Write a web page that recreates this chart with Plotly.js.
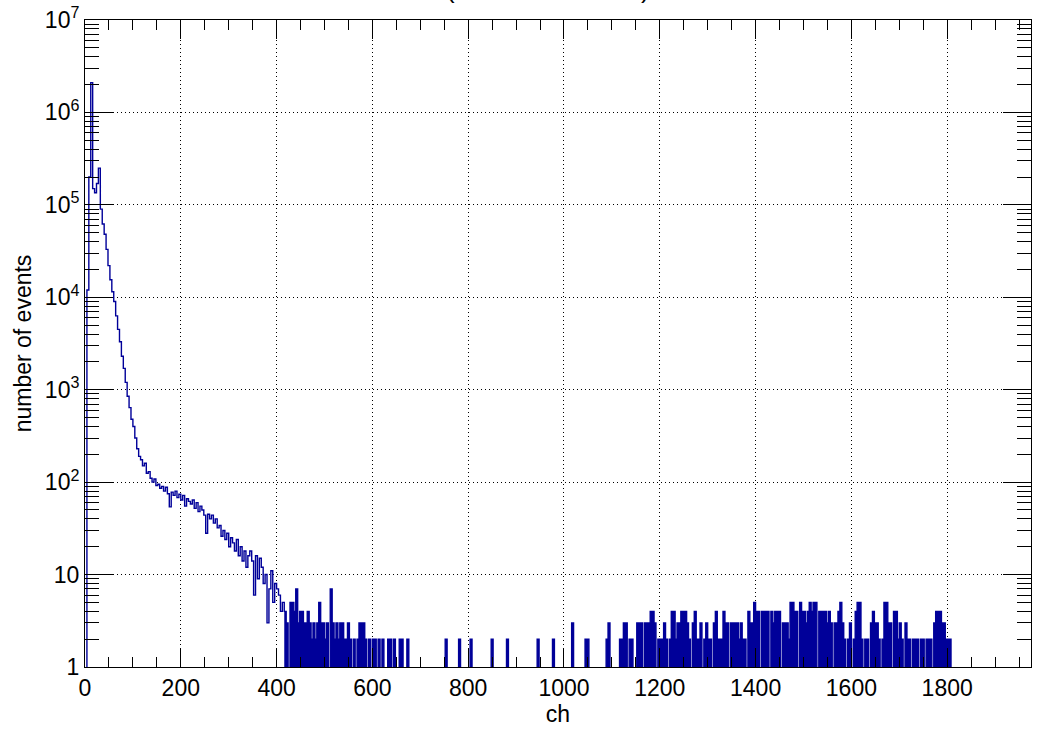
<!DOCTYPE html>
<html>
<head>
<meta charset="utf-8">
<script src="https://cdn.plot.ly/plotly-3.0.1.min.js"></script>
<style>html,body{margin:0;padding:0;background:#fff;}#chart{width:1040px;height:729px;}</style>
</head>
<body>
<div id="chart"></div>
<script>
// ---- data (bin width 4 ch) ----
const binWidth = 4;
// counts for bins starting at ch 0,4,8,...,412
const headCounts = [
  0, 12000, 200000, 2100000, 150000, 135000, 170000, 250000, 90000, 62000,
  48000, 33000, 22000, 15500, 11500, 9000, 6300, 4500, 3300, 2300,
  1700, 1200, 850, 640, 480, 400, 300, 230, 190, 175,
  150, 160, 125, 130, 110, 100, 108, 92, 95, 86,
  90, 80, 88, 75, 54, 78, 72, 80, 68, 74,
  64, 72, 55, 66, 62, 58, 64, 52, 60, 48,
  55, 50, 44, 28, 45, 40, 44, 36, 40, 32,
  34, 26, 30, 24, 28, 20, 25, 22, 18, 24,
  16, 20, 14, 18, 12, 16, 18, 14, 6, 16,
  9, 15, 12, 8, 10, 3, 7, 11, 5, 8,
  7, 6, 4, 5
];
// sparse tail: non-empty bins (lower edge in ch) beyond ch 416
const tailChannels = [
  416, 420, 428, 432, 436, 440, 444, 448, 452, 456, 460, 464, 468, 472, 476, 480, 484, 488, 492, 496,
  500, 504, 512, 516, 520, 524, 528, 532, 536, 540, 544, 548, 552, 560, 568, 572, 576, 580, 584, 592,
  600, 604, 612, 620, 632, 636, 644, 656, 660, 672,
  752, 780, 804, 848, 880, 944, 976, 1016, 1044, 1048, 1088, 1092,
  1116, 1120, 1124, 1128, 1136, 1140, 1152, 1156, 1160, 1168, 1172, 1176, 1180, 1184, 1188,
  1196, 1200, 1204, 1208, 1212, 1220, 1224, 1228, 1232, 1236, 1240, 1244, 1248, 1252, 1256, 1260,
  1268, 1272, 1276, 1280, 1284, 1292, 1296, 1300, 1304, 1312, 1316, 1320, 1324, 1328, 1332, 1336, 1340,
  1348, 1352, 1356, 1360, 1364, 1368, 1372, 1376, 1384, 1388, 1392, 1396, 1400, 1404,
  1412, 1416, 1420, 1424, 1432, 1436, 1440, 1444, 1448, 1456, 1460, 1464, 1468, 1472, 1476, 1480, 1484,
  1492, 1496, 1500, 1504, 1508, 1512, 1516, 1520, 1524, 1532, 1536, 1540, 1544, 1548, 1552, 1556,
  1564, 1568, 1572, 1576, 1580, 1584, 1592, 1596, 1604, 1608, 1612, 1616, 1620, 1628, 1632,
  1640, 1644, 1648, 1652, 1656, 1664, 1668, 1672, 1676, 1680, 1688, 1692, 1696, 1700, 1704,
  1712, 1716, 1720, 1728, 1732, 1736, 1744, 1748, 1756, 1760, 1764, 1772, 1776, 1780, 1784, 1788,
  1792, 1796, 1800, 1804
];
const tailCounts = [
  4, 3, 5, 5, 4, 7, 3, 4, 4, 3, 3, 4, 3, 2, 3, 2, 3, 5, 3, 3,
  2, 3, 7, 3, 2, 3, 2, 3, 3, 2, 2, 3, 2, 2, 2, 3, 3, 3, 2, 2,
  2, 2, 2, 2, 2, 2, 2, 2, 2, 2,
  2, 2, 2, 2, 2, 2, 2, 3, 2, 2, 2, 3,
  2, 2, 3, 3, 2, 2, 3, 3, 3, 3, 3, 3, 4, 4, 3,
  2, 2, 2, 3, 2, 2, 4, 4, 2, 3, 3, 4, 4, 4, 3, 2,
  3, 4, 2, 2, 3, 2, 3, 2, 2, 3, 4, 2, 2, 2, 4, 3, 3,
  3, 3, 3, 3, 2, 3, 2, 2, 4, 3, 3, 5, 4, 4,
  4, 4, 4, 4, 4, 3, 4, 4, 4, 3, 3, 3, 2, 5, 5, 4, 4,
  5, 4, 4, 3, 4, 5, 4, 5, 5, 4, 4, 4, 4, 3, 4, 3,
  3, 3, 4, 5, 3, 2, 2, 3, 2, 4, 5, 5, 2, 2, 2,
  3, 4, 3, 3, 2, 2, 5, 5, 3, 3, 4, 4, 2, 3, 2,
  3, 2, 2, 2, 2, 2, 2, 2, 2, 2, 2, 3, 4, 4, 4, 3,
  3, 2, 2, 2
];
const xTickVals = [0, 200, 400, 600, 800, 1000, 1200, 1400, 1600, 1800];
const xTickText = ['0', '200', '400', '600', '800', '1000', '1200', '1400', '1600', '1800'];
const yTickVals = [1, 10, 100, 1000, 10000, 100000, 1000000, 10000000];
const yTickText = ['1', '10', '10<sup>2</sup>', '10<sup>3</sup>', '10<sup>4</sup>', '10<sup>5</sup>', '10<sup>6</sup>', '10<sup>7</sup>'];
const xTitle = 'ch';
const yTitle = 'number of events';

// ---- build histogram ----
const tailEnd = 1808;
const nBins = tailEnd / binWidth;
const counts = new Array(nBins).fill(0);
headCounts.forEach((v, i) => { counts[i] = v; });
tailChannels.forEach((c, i) => { counts[c / binWidth] = tailCounts[i]; });

const FLOOR = 0.1; // empty bins drop below the log axis (clipped)
const edges = [], vals = [];
for (let i = 0; i < nBins; i++) { edges.push(i * binWidth); vals.push(counts[i] > 0 ? counts[i] : FLOOR); }
edges.push(nBins * binWidth); vals.push(FLOOR);

const tailStartBin = 416 / binWidth;
const tx = edges.slice(tailStartBin), ty = vals.slice(tailStartBin);

const BLUE = '#000099';
const FONT = 'Liberation Sans, Arial, Helvetica, sans-serif';
const FS = 23;

const traces = [
  {x: [tx[0], tx[tx.length - 1]], y: [FLOOR, FLOOR], mode: 'lines', line: {width: 0}, hoverinfo: 'skip', showlegend: false},
  {x: tx, y: ty, mode: 'lines', line: {shape: 'hv', width: 0, color: BLUE}, fill: 'tonexty', fillcolor: BLUE, hoverinfo: 'skip', showlegend: false},
  {x: edges, y: vals, mode: 'lines', line: {shape: 'hv', width: 1.4, color: BLUE}, showlegend: false}
];

const xMinor = [];
for (let v = 0; v <= 1975; v += 50) if (v % 200 !== 0) xMinor.push(v);
const yMinor = [];
for (let d = 1; d < 1e7; d *= 10) for (let k = 2; k <= 9; k++) yMinor.push(k * d);

const axisCommon = {
  showline: true, linecolor: 'black', linewidth: 1, mirror: 'allticks',
  ticks: 'inside', tickcolor: 'black', tickwidth: 1,
  showgrid: true, gridcolor: 'black', gridwidth: 1, griddash: '1px,3px',
  zeroline: false, tickfont: {family: FONT, size: FS, color: 'black'}
};

const layout = {
  width: 1040, height: 729,
  margin: {l: 85, r: 9, t: 20, b: 62},
  paper_bgcolor: 'white', plot_bgcolor: 'white',
  showlegend: false,
  xaxis: Object.assign({}, axisCommon, {
    range: [0, 1975], tickmode: 'array', tickvals: xTickVals, ticktext: xTickText, ticklen: 19,
    minor: {tickmode: 'array', tickvals: xMinor, ticklen: 10, tickcolor: 'black', tickwidth: 1, ticks: 'inside', showgrid: false},
    title: {text: xTitle, font: {family: FONT, size: FS, color: 'black'}, standoff: 0}
  }),
  yaxis: Object.assign({}, axisCommon, {
    type: 'log', range: [0, 7], tickmode: 'array', tickvals: yTickVals, ticktext: yTickText, ticklen: 28,
    minor: {tickmode: 'array', tickvals: yMinor, ticklen: 14, tickcolor: 'black', tickwidth: 1, ticks: 'inside', showgrid: false},
    title: {text: yTitle, font: {family: FONT, size: FS, color: 'black'}, standoff: 6}
  }),
  annotations: [
    {xref: 'paper', yref: 'paper', x: (444 - 85) / 946, y: (667 - 6) / 647, xanchor: 'left', yanchor: 'bottom', text: '(', showarrow: false, font: {family: FONT, size: 26, color: 'black'}},
    {xref: 'paper', yref: 'paper', x: (652 - 85) / 946, y: (667 - 6) / 647, xanchor: 'right', yanchor: 'bottom', text: ')', showarrow: false, font: {family: FONT, size: 26, color: 'black'}}
  ]
};

Plotly.newPlot('chart', traces, layout, {displayModeBar: false, staticPlot: true});
</script>
</body>
</html>
